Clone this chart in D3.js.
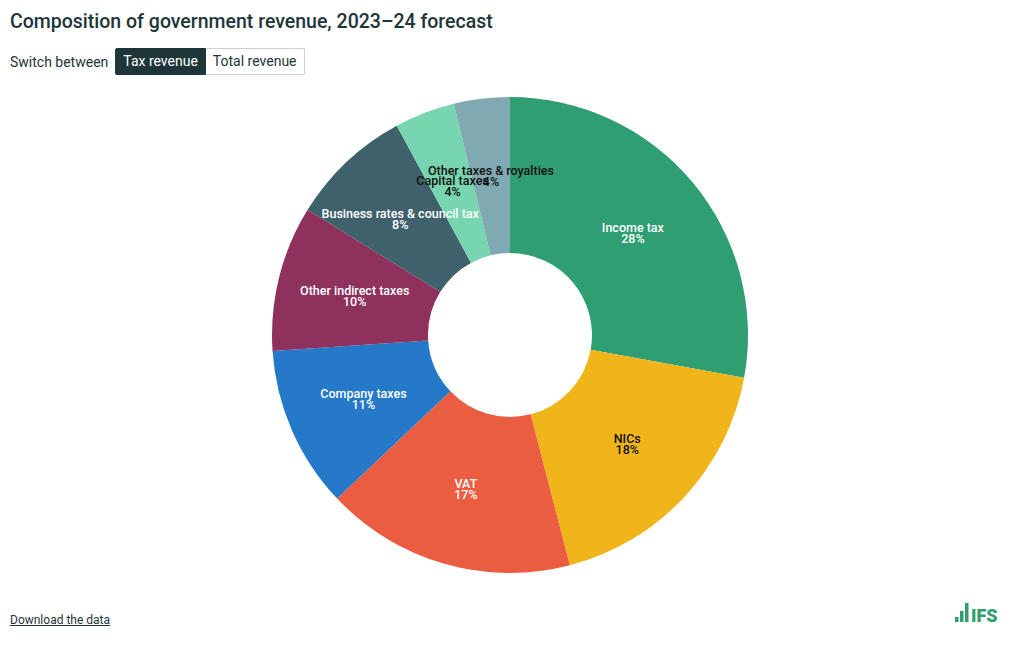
<!DOCTYPE html>
<html>
<head>
<meta charset="utf-8">
<script src="https://cdn.jsdelivr.net/npm/d3@7"></script>
<style>
  body { margin: 0; font-family: Roboto, "Noto Sans", sans-serif; color: #1e3539; background: #fff; }
  #chart { position: relative; width: 1020px; height: 650px; }
  h1 { position: absolute; left: 10px; top: 10px; margin: 0; font-size: 19.5px; font-weight: 500; }
  .switch { position: absolute; left: 10px; top: 48px; display: flex; align-items: center; font-size: 14px; }
  .switch span.lbl { margin-right: 7px; }
  .btn { height: 25px; line-height: 25px; padding: 0 7px; border: 1px solid #ccd2d3; font-size: 14px; }
  .btn.on { background: #1e3539; color: #fff; border-color: #1e3539; border-radius: 2px 0 0 2px; }
  .btn.off { border-left: none; border-radius: 0 2px 2px 0; }
  .dl { position: absolute; left: 10px; top: 613px; font-size: 12px; text-decoration: underline; color: #1e3539; }
  svg { position: absolute; left: 0; top: 0; }
</style>
</head>
<body>
<div id="chart">
  <h1>Composition of government revenue, 2023–24 forecast</h1>
  <div class="switch"><span class="lbl">Switch between</span><span class="btn on">Tax revenue</span><span class="btn off">Total revenue</span></div>
  <div class="dl">Download the data</div>
</div>
<script>
var categories = ["Income tax", "NICs", "VAT", "Company taxes", "Other indirect taxes",
                  "Business rates & council tax", "Capital taxes", "Other taxes & royalties"];
var shares = [27.9, 18.1, 17.0, 11.0, 9.9, 8.3, 4.1, 3.8];
var percentLabels = ["28%", "18%", "17%", "11%", "10%", "8%", "4%", "4%"];
var colours = ["#2f9e73", "#f0b51a", "#eb5d40", "#2678c9", "#8e315d", "#3f616b", "#77d5b0", "#80a9b2"];
var darkText = ["NICs", "Capital taxes", "Other taxes & royalties"];

var data = categories.map(function (c, i) {
    return { name: c, value: shares[i], pct: percentLabels[i] };
});

var svg = d3.select("#chart")
    .append("svg")
    .attr("width", 1020)
    .attr("height", 650);

var g = svg.append("g").attr("transform", "translate(510,335)");

var pie = d3.pie().sort(null).value(function (d) { return d.value; });
var arc = d3.arc().innerRadius(82).outerRadius(238);

var color = d3.scaleOrdinal().domain(categories).range(colours);

var arcs = pie(data);

g.selectAll("path")
    .data(arcs)
    .enter()
    .append("path")
    .attr("d", arc)
    .attr("fill", function (d) { return color(d.data.name); });

// labels sit on the arc centroid, name above and share below
var labels = g.selectAll("text.label")
    .data(arcs)
    .enter()
    .append("text")
    .attr("class", "label")
    .attr("transform", function (d) {
        return "translate(" + arc.centroid(d) + ")";
    })
    .attr("text-anchor", "middle")
    .style("font", "500 12.5px Roboto, sans-serif")
    .attr("fill", function (d) {
        return darkText.indexOf(d.data.name) >= 0 ? "#111" : "#fff";
    });

labels.append("tspan")
    .attr("x", 0)
    .attr("y", -1)
    .text(function (d) { return d.data.name; });

labels.append("tspan")
    .attr("x", 0)
    .attr("y", 10)
    .text(function (d) { return d.data.pct; });

// IFS logo
var logo = svg.append("g").attr("transform", "translate(955,603)").attr("fill", "#2f9e73");
var bars = [5, 11, 19];
logo.selectAll("rect")
    .data(bars)
    .enter()
    .append("rect")
    .attr("x", function (d, i) { return i * 5; })
    .attr("y", function (d) { return 19 - d; })
    .attr("width", 3.5)
    .attr("height", function (d) { return d; });
logo.append("text")
    .attr("x", 16)
    .attr("y", 19)
    .style("font", "900 18px Roboto, sans-serif")
    .text("IFS");
</script>
</body>
</html>
